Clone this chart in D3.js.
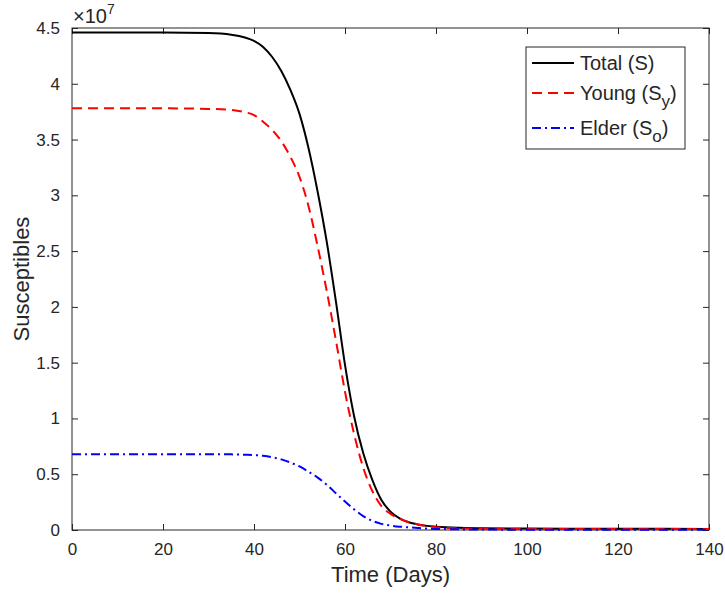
<!DOCTYPE html>
<html>
<head>
<meta charset="utf-8">
<script src="https://cdn.jsdelivr.net/npm/d3@7"></script>
<style>
  body { margin: 0; background: #fff; }
  text { font-family: "Liberation Sans", Arial, sans-serif; fill: #262626; }
</style>
</head>
<body>
<div id="chart"></div>
<script>
// time points (days)
const days = [0, 10, 20, 30, 35, 38, 40, 42, 44, 46, 48, 50, 52, 54, 56, 58, 60, 62, 64, 66, 68, 70, 72, 74, 76, 78, 80, 85, 90, 100, 120, 140];
// susceptibles, in units of 1e7
const totalS = [4.46, 4.46, 4.46, 4.455, 4.44, 4.415, 4.385, 4.33, 4.24, 4.115, 3.945, 3.73, 3.42, 3.03, 2.58, 2.05, 1.48, 1.02, 0.69, 0.45, 0.27, 0.165, 0.105, 0.07, 0.05, 0.037, 0.03, 0.02, 0.016, 0.013, 0.011, 0.01];
const youngS = [3.78, 3.78, 3.78, 3.775, 3.765, 3.745, 3.72, 3.66, 3.585, 3.485, 3.345, 3.165, 2.90, 2.54, 2.14, 1.70, 1.24, 0.86, 0.56, 0.35, 0.215, 0.145, 0.10, 0.07, 0.05, 0.035, 0.025, 0.015, 0.011, 0.009, 0.008, 0.008];
const elderS = [0.68, 0.68, 0.68, 0.68, 0.678, 0.675, 0.672, 0.665, 0.652, 0.633, 0.605, 0.57, 0.522, 0.47, 0.405, 0.33, 0.255, 0.185, 0.125, 0.082, 0.055, 0.04, 0.03, 0.024, 0.018, 0.013, 0.01, 0.006, 0.004, 0.003, 0.003, 0.003];
const xTicks = [0, 20, 40, 60, 80, 100, 120, 140];
const yTicks = [0, 0.5, 1, 1.5, 2, 2.5, 3, 3.5, 4, 4.5];

const W = 725, H = 594;
const margin = { top: 28, right: 16, bottom: 64, left: 72 };
const width = W - margin.left - margin.right;
const height = H - margin.top - margin.bottom;
const axisColor = "#262626";

const svg = d3.select("#chart").append("svg")
    .attr("width", W)
    .attr("height", H);
const g = svg.append("g")
    .attr("transform", "translate(" + margin.left + "," + margin.top + ")");

const x = d3.scaleLinear().domain([0, 140]).range([0, width]);
const y = d3.scaleLinear().domain([0, 4.5]).range([height, 0]);

// axes with inward ticks (MATLAB style, box on)
function styleAxis(sel) {
    sel.select(".domain").remove();
    sel.selectAll(".tick line").attr("stroke", axisColor);
    sel.selectAll(".tick text").style("font-size", "17px").attr("fill", axisColor);
}
g.append("g")
    .attr("transform", "translate(0," + height + ")")
    .call(d3.axisBottom(x).tickValues(xTicks).tickSizeInner(-6).tickPadding(13))
    .call(styleAxis);
g.append("g")
    .call(d3.axisTop(x).tickValues(xTicks).tickSizeInner(-6).tickFormat(""))
    .call(styleAxis);
g.append("g")
    .call(d3.axisLeft(y).tickValues(yTicks).tickSizeInner(-6).tickPadding(12).tickFormat(d3.format("~g")))
    .call(styleAxis);
g.append("g")
    .attr("transform", "translate(" + width + ",0)")
    .call(d3.axisRight(y).tickValues(yTicks).tickSizeInner(-6).tickFormat(""))
    .call(styleAxis);

g.append("rect")
    .attr("width", width)
    .attr("height", height)
    .attr("fill", "none")
    .attr("stroke", axisColor)
    .attr("stroke-width", 1);

// lines
const series = [
    { name: "Total", values: totalS, color: "#000000", dash: null },
    { name: "Young", values: youngS, color: "#ff0000", dash: "10,6" },
    { name: "Elder", values: elderS, color: "#0000ff", dash: "9,4,2,4" }
];
const line = d3.line()
    .x((d, i) => x(days[i]))
    .y(d => y(d))
    .curve(d3.curveMonotoneX);

g.selectAll(".series")
    .data(series)
    .join("path")
    .attr("class", "series")
    .attr("d", d => line(d.values))
    .attr("fill", "none")
    .attr("stroke", d => d.color)
    .attr("stroke-width", 2)
    .attr("stroke-dasharray", d => d.dash);

// exponent label
const expo = svg.append("text")
    .attr("x", margin.left + 1)
    .attr("y", 23)
    .style("font-size", "20px");
expo.append("tspan").text("\u00d710");
expo.append("tspan").attr("dy", -9).style("font-size", "14px").text("7");

// axis titles
svg.append("text")
    .attr("x", margin.left + width / 2)
    .attr("y", 582)
    .attr("text-anchor", "middle")
    .style("font-size", "22px")
    .text("Time (Days)");
svg.append("text")
    .attr("transform", "translate(29," + (margin.top + height / 2) + ") rotate(-90)")
    .attr("text-anchor", "middle")
    .style("font-size", "22px")
    .text("Susceptibles");

// legend
const legend = svg.append("g").attr("transform", "translate(526,47)");
legend.append("rect")
    .attr("width", 159)
    .attr("height", 102)
    .attr("fill", "#fff")
    .attr("stroke", axisColor);
const labels = [["Total (S", "", ")"], ["Young (S", "y", ")"], ["Elder (S", "o", ")"]];
const rowY = [16, 46, 81];
series.forEach((s, i) => {
    legend.append("line")
        .attr("x1", 6).attr("x2", 48)
        .attr("y1", rowY[i]).attr("y2", rowY[i])
        .attr("stroke", s.color)
        .attr("stroke-width", 2)
        .attr("stroke-dasharray", s.dash);
    const t = legend.append("text")
        .attr("x", 54)
        .attr("y", rowY[i] + 7)
        .style("font-size", "20px");
    t.append("tspan").text(labels[i][0]);
    if (labels[i][1]) {
        t.append("tspan").attr("dy", 7).style("font-size", "17px").text(labels[i][1]);
        t.append("tspan").attr("dy", -7).text(labels[i][2]);
    } else {
        t.append("tspan").text(labels[i][2]);
    }
});
</script>
</body>
</html>
